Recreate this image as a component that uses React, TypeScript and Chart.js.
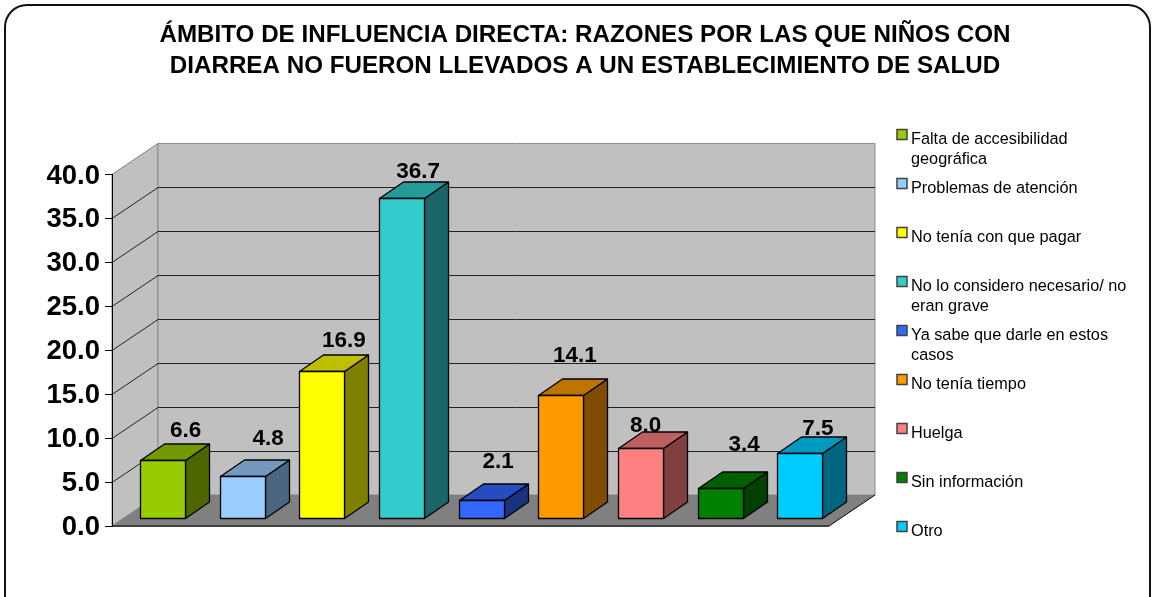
import React, { useEffect, useRef } from "react";
import { Chart, registerables } from "chart.js";

Chart.register(...registerables);

const titleLines = [
  "ÁMBITO DE INFLUENCIA DIRECTA: RAZONES POR LAS QUE NIÑOS CON",
  "DIARREA NO FUERON LLEVADOS A UN ESTABLECIMIENTO DE SALUD",
];
const categories = [
  ["Falta de accesibilidad", "geográfica"],
  ["Problemas de atención"],
  ["No tenía con que pagar"],
  ["No lo considero necesario/ no", "eran grave"],
  ["Ya sabe que darle en estos", "casos"],
  ["No tenía tiempo"],
  ["Huelga"],
  ["Sin información"],
  ["Otro"],
];
const values = [6.6, 4.8, 16.9, 36.7, 2.1, 14.1, 8.0, 3.4, 7.5];
const frontColors = ["#99CC00", "#99CCFF", "#FFFF00", "#33CCCC", "#3366FF", "#FF9900", "#FF8080", "#008000", "#00CCFF"];
// Hand-placed data labels in the reference: horizontal shift and lift above the bar's back top edge.
const labelShiftX = [23, 26, 22, 16.5, 17, 14, 5, 24, 18];
const labelLift = [6.5, 15, 7, 3, 15, 16, 0, 21, 1];

const FONT = '"Liberation Sans", Arial, sans-serif';
const WALL_DX = 46;
const WALL_DY = 31;
const BAR_DX = 24;
const BAR_DY = 16.5;
const BAR_SHIFT_X = 10.7;
const BAR_SHIFT_Y = 8;
const BAR_DEPTH_SCALE = 0.993;

function shade(hex: string, k: number) {
  const n = parseInt(hex.slice(1), 16);
  const c = [(n >> 16) & 255, (n >> 8) & 255, n & 255].map((v) => Math.round(v * k));
  return `rgb(${c[0]},${c[1]},${c[2]})`;
}

function poly(ctx: CanvasRenderingContext2D, pts: number[][], fill: string, stroke?: string, lw = 1) {
  ctx.beginPath();
  pts.forEach((p, i) => (i ? ctx.lineTo(p[0], p[1]) : ctx.moveTo(p[0], p[1])));
  ctx.closePath();
  ctx.fillStyle = fill;
  ctx.fill();
  if (stroke) {
    ctx.strokeStyle = stroke;
    ctx.lineWidth = lw;
    ctx.stroke();
  }
}

function barTop(p: any) {
  return p.base - BAR_SHIFT_Y - (p.base - p.y) * BAR_DEPTH_SCALE;
}

const scene3d = {
  id: "scene3d",
  afterLayout(chart: any) {
    chart.titleBlock.left = 18;
    chart.titleBlock.right = 1152;
  },
  beforeDraw(chart: any) {
    const { ctx, chartArea: a, scales } = chart;
    const y = scales.y;
    ctx.save();
    // outer frame
    ctx.fillStyle = "#fff";
    ctx.fillRect(0, 0, chart.width, chart.height);
    ctx.beginPath();
    ctx.roundRect(5, 5, 1145, 640, 22);
    ctx.strokeStyle = "#111";
    ctx.lineWidth = 2;
    ctx.stroke();
    // walls and floor
    poly(ctx, [[a.left, a.top], [a.left + WALL_DX, a.top - WALL_DY], [a.left + WALL_DX, a.bottom - WALL_DY], [a.left, a.bottom]], "#C0C0C0", "#808080");
    poly(ctx, [[a.left + WALL_DX, a.top - WALL_DY], [a.right + WALL_DX, a.top - WALL_DY], [a.right + WALL_DX, a.bottom - WALL_DY], [a.left + WALL_DX, a.bottom - WALL_DY]], "#C0C0C0", "#8c8c8c");
    poly(ctx, [[a.left, a.bottom], [a.left + WALL_DX, a.bottom - WALL_DY], [a.right + WALL_DX, a.bottom - WALL_DY], [a.right, a.bottom]], "#808080");
    // gridlines
    ctx.lineWidth = 1;
    ctx.strokeStyle = "#222";
    y.ticks.forEach((t: any) => {
      if (t.value === 0 || t.value === y.max) return;
      const py = Math.round(y.getPixelForValue(t.value)) + 0.5;
      ctx.beginPath();
      ctx.moveTo(a.left, py);
      ctx.lineTo(a.left + WALL_DX, py - WALL_DY);
      ctx.lineTo(a.right + WALL_DX, py - WALL_DY);
      ctx.stroke();
    });
    // floor edges
    ctx.strokeStyle = "#000";
    ctx.beginPath();
    ctx.moveTo(a.right, a.bottom);
    ctx.lineTo(a.right + WALL_DX, a.bottom - WALL_DY);
    ctx.stroke();
    ctx.strokeStyle = "#404040";
    ctx.lineWidth = 2;
    ctx.beginPath();
    ctx.moveTo(a.left, a.bottom);
    ctx.lineTo(a.right, a.bottom);
    ctx.stroke();
    ctx.restore();
  },
  beforeDatasetDraw(chart: any, args: any) {
    const { ctx } = chart;
    const els = args.meta.data;
    ctx.save();
    ctx.lineJoin = "round";
    els.forEach((el: any, i: number) => {
      const p = el.getProps(["x", "y", "base", "width"], true);
      const l = Math.round(p.x + BAR_SHIFT_X - p.width / 2) + 0.5;
      const r = Math.round(p.x + BAR_SHIFT_X + p.width / 2) + 0.5;
      const t = Math.round(barTop(p)) + 0.5;
      const b = Math.round(p.base - BAR_SHIFT_Y) + 0.5;
      const c = frontColors[i];
      poly(ctx, [[r, t], [r + BAR_DX, t - BAR_DY], [r + BAR_DX, b - BAR_DY], [r, b]], shade(c, 0.5), "#000", 1.3);
      poly(ctx, [[l, t], [l + BAR_DX, t - BAR_DY], [r + BAR_DX, t - BAR_DY], [r, t]], shade(c, 0.75), "#000", 1.3);
      poly(ctx, [[l, t], [r, t], [r, b], [l, b]], c, "#000", 1.3);
    });
    ctx.restore();
    return false;
  },
  afterDatasetsDraw(chart: any) {
    const { ctx } = chart;
    const els = chart.getDatasetMeta(0).data;
    ctx.save();
    ctx.fillStyle = "#000";
    ctx.textAlign = "center";
    ctx.textBaseline = "alphabetic";
    ctx.font = `bold 22.5px ${FONT}`;
    els.forEach((el: any, i: number) => {
      const p = el.getProps(["x", "y", "base", "width"], true);
      const cx = p.x + BAR_SHIFT_X + labelShiftX[i];
      const top = barTop(p) - BAR_DY;
      ctx.fillText(values[i].toFixed(1), cx, top - labelLift[i]);
    });
    // legend
    const X = 897;
    ctx.font = `16.3px ${FONT}`;
    ctx.textAlign = "left";
    categories.forEach((lines, i) => {
      const cy = 134.5 + i * 49;
      ctx.fillStyle = frontColors[i];
      ctx.fillRect(X, cy - 5, 10, 10);
      ctx.strokeStyle = "#404040";
      ctx.lineWidth = 1.5;
      ctx.strokeRect(X, cy - 5, 10, 10);
      ctx.fillStyle = "#000";
      lines.forEach((s, j) => ctx.fillText(s, X + 14, cy + 9 + j * 20));
    });
    ctx.restore();
  },
};

export default function App() {
  const ref = useRef<HTMLCanvasElement>(null);
  useEffect(() => {
    const chart = new Chart(ref.current as HTMLCanvasElement, {
      type: "bar",
      data: {
        labels: categories,
        datasets: [
          {
            label: "Razones",
            data: values,
            backgroundColor: frontColors,
            categoryPercentage: 1,
            barPercentage: 0.565,
          },
        ],
      },
      options: {
        responsive: false,
        animation: false,
        events: [],
        layout: { padding: { top: 0, left: 0, right: 323, bottom: 71 } },
        plugins: {
          legend: { display: false },
          tooltip: { enabled: false },
          title: {
            display: true,
            text: titleLines,
            color: "#000",
            font: { family: FONT, size: 24.2, weight: "bold", lineHeight: 1.28 },
            padding: { top: 19.5, bottom: 93 },
          },
        },
        scales: {
          x: { display: false, type: "category", offset: true },
          y: {
            min: 0,
            max: 40,
            afterFit: (s: any) => {
              s.width = 112;
            },
            ticks: {
              stepSize: 5,
              color: "#000",
              padding: 5,
              labelOffset: 1.5,
              font: { family: FONT, size: 27.5, weight: "bold" },
              callback: (v: any) => Number(v).toFixed(1),
            },
            grid: { drawOnChartArea: false, drawTicks: true, tickLength: 7, color: "#000" },
            border: { display: true, color: "#000", width: 1 },
          },
        },
      },
      plugins: [scene3d],
    } as any);
    return () => chart.destroy();
  }, []);
  return (
    <div style={{ position: "fixed", left: 0, top: 0, width: 1152, height: 597, overflow: "hidden", background: "#fff" }}>
      <canvas ref={ref} width={1152} height={597} style={{ display: "block" }} />
    </div>
  );
}
